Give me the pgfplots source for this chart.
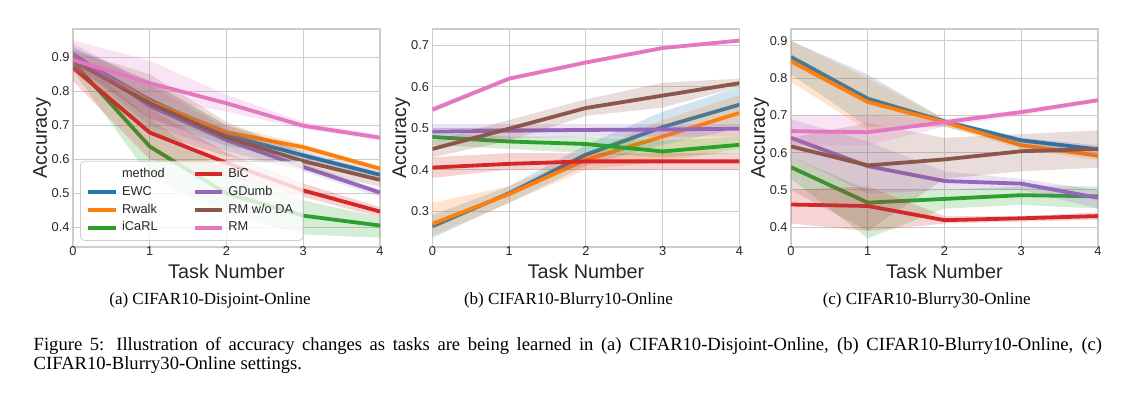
\documentclass[border=0pt]{standalone}
\usepackage{fontspec}
\setmainfont{Liberation Serif}
\newfontfamily\arial{Liberation Sans}
\usepackage{pgfplots}
\pgfplotsset{compat=1.18}
\definecolor{cEWC}{HTML}{1F77B4}
\definecolor{cRW}{HTML}{FF7F0E}
\definecolor{cIC}{HTML}{2CA02C}
\definecolor{cBiC}{HTML}{D62728}
\definecolor{cGD}{HTML}{9467BD}
\definecolor{cRMw}{HTML}{8C564B}
\definecolor{cRM}{HTML}{E377C2}
\definecolor{gridc}{HTML}{CCCCCC}
\definecolor{labc}{HTML}{262626}
% \series{color}{mean}{band polygon: upper forward, lower backward}
\newcommand{\series}[3]{%
  \addplot[draw=none, fill=#1, fill opacity=0.2, forget plot] coordinates {#3} -- cycle;
  \addplot[#1, line width=1.9pt, forget plot] coordinates {#2};
}
\pgfplotsset{
  panel/.style={
    scale only axis, width=153.5pt, height=109pt,
    xmin=0, xmax=4, xtick={0,1,2,3,4},
    grid=major, major grid style={draw=gridc, line width=0.5pt},
    axis line style={draw=gridc, line width=0.6pt},
    major tick length=0pt, no markers,
    tick label style={font=\arial\fontsize{6.4}{7}\selectfont, text=labc},
    /pgf/number format/assume math mode=true,
    xticklabel style={yshift=1.3pt, inner ysep=1pt},
    yticklabel style={xshift=1.8pt, /pgf/number format/.cd, fixed, precision=1, fixed zerofill},
    xlabel={Task Number}, ylabel={Accuracy},
    label style={font=\arial\fontsize{9.9}{11}\selectfont, text=labc},
    xlabel style={at={(axis description cs:0.5,-0.112)}, anchor=center, inner ysep=0.5pt},
    ylabel style={at={(axis description cs:-0.101,0.5)}, anchor=center},
    legend image code/.code={\draw[#1, line width=2pt] (0pt,0pt) -- (13.8pt,0pt);},
  }
}
\begin{document}
\begin{tikzpicture}
\useasboundingbox (0pt,0pt) rectangle (566.5pt,-199.5pt);
% (a)
\begin{axis}[panel, at={(36.5pt,-123.5pt)}, anchor=south west,
  ymin=0.343, ymax=0.983, ytick={0.4,0.5,0.6,0.7,0.8,0.9},
  legend columns=2,
  legend style={at={(axis description cs:0.023,0.028)}, anchor=south west,
    draw=gridc, rounded corners=2pt, fill=white, fill opacity=0.8, text opacity=1,
    font=\arial\fontsize{6.4}{7.5}\selectfont, text=labc,
    nodes={inner ysep=1.5pt, text height=4.6pt, text depth=1.3pt},
    /tikz/every even column/.append style={column sep=12pt},
    inner xsep=3pt, inner ysep=2pt},
  legend cell align=left]
\series{cEWC}{(0,0.905)(1,0.775)(2,0.672)(3,0.612)(4,0.555)}{(0,0.93)(1,0.83)(2,0.70)(3,0.625)(4,0.565)(4,0.545)(3,0.60)(2,0.64)(1,0.72)(0,0.88)}
\series{cRW}{(0,0.90)(1,0.77)(2,0.68)(3,0.636)(4,0.573)}{(0,0.925)(1,0.83)(2,0.70)(3,0.645)(4,0.58)(4,0.565)(3,0.625)(2,0.655)(1,0.72)(0,0.875)}
\series{cIC}{(0,0.886)(1,0.638)(2,0.50)(3,0.435)(4,0.406)}{(0,0.91)(1,0.72)(2,0.56)(3,0.48)(4,0.43)(4,0.37)(3,0.38)(2,0.44)(1,0.55)(0,0.86)}
\series{cBiC}{(0,0.87)(1,0.679)(2,0.59)(3,0.509)(4,0.447)}{(0,0.90)(1,0.75)(2,0.62)(3,0.53)(4,0.46)(4,0.43)(3,0.49)(2,0.55)(1,0.60)(0,0.83)}
\series{cGD}{(0,0.91)(1,0.757)(2,0.657)(3,0.578)(4,0.503)}{(0,0.94)(1,0.82)(2,0.69)(3,0.59)(4,0.51)(4,0.49)(3,0.565)(2,0.625)(1,0.70)(0,0.88)}
\series{cRMw}{(0,0.89)(1,0.765)(2,0.665)(3,0.595)(4,0.54)}{(0,0.92)(1,0.85)(2,0.71)(3,0.62)(4,0.56)(4,0.52)(3,0.57)(2,0.61)(1,0.68)(0,0.86)}
\series{cRM}{(0,0.892)(1,0.824)(2,0.765)(3,0.699)(4,0.664)}{(0,0.95)(1,0.89)(2,0.79)(3,0.71)(4,0.672)(4,0.656)(3,0.69)(2,0.74)(1,0.78)(0,0.86)}
\addlegendimage{draw opacity=0}\addlegendentry{method}
\addlegendimage{cBiC}\addlegendentry{BiC}
\addlegendimage{cEWC}\addlegendentry{EWC}
\addlegendimage{cGD}\addlegendentry{GDumb}
\addlegendimage{cRW}\addlegendentry{Rwalk}
\addlegendimage{cRMw}\addlegendentry{RM w/o DA}
\addlegendimage{cIC}\addlegendentry{iCaRL}
\addlegendimage{cRM}\addlegendentry{RM}
\end{axis}
% (b)
\begin{axis}[panel, at={(216.2pt,-123.5pt)}, anchor=south west,
  ymin=0.213, ymax=0.740, ytick={0.3,0.4,0.5,0.6,0.7}]
\series{cEWC}{(0,0.263)(1,0.343)(2,0.436)(3,0.503)(4,0.557)}{(0,0.29)(1,0.36)(2,0.46)(3,0.54)(4,0.60)(4,0.50)(3,0.46)(2,0.41)(1,0.32)(0,0.235)}
\series{cRW}{(0,0.269)(1,0.341)(2,0.424)(3,0.480)(4,0.537)}{(0,0.32)(1,0.36)(2,0.44)(3,0.52)(4,0.58)(4,0.45)(3,0.42)(2,0.40)(1,0.32)(0,0.24)}
\series{cIC}{(0,0.479)(1,0.468)(2,0.462)(3,0.444)(4,0.460)}{(0,0.49)(1,0.48)(2,0.48)(3,0.47)(4,0.48)(4,0.44)(3,0.43)(2,0.44)(1,0.45)(0,0.46)}
\series{cBiC}{(0,0.405)(1,0.414)(2,0.420)(3,0.420)(4,0.420)}{(0,0.43)(1,0.44)(2,0.44)(3,0.44)(4,0.44)(4,0.40)(3,0.40)(2,0.40)(1,0.40)(0,0.38)}
\series{cGD}{(0,0.492)(1,0.494)(2,0.496)(3,0.497)(4,0.499)}{(0,0.51)(1,0.51)(2,0.51)(3,0.51)(4,0.51)(4,0.48)(3,0.48)(2,0.48)(1,0.475)(0,0.475)}
\series{cRMw}{(0,0.450)(1,0.499)(2,0.549)(3,0.579)(4,0.609)}{(0,0.47)(1,0.52)(2,0.57)(3,0.61)(4,0.62)(4,0.60)(3,0.55)(2,0.53)(1,0.47)(0,0.43)}
\series{cRM}{(0,0.545)(1,0.620)(2,0.659)(3,0.694)(4,0.712)}{(0,0.552)(1,0.625)(2,0.664)(3,0.698)(4,0.716)(4,0.708)(3,0.690)(2,0.654)(1,0.615)(0,0.538)}
\end{axis}
% (c)
\begin{axis}[panel, at={(395.5pt,-123.5pt)}, anchor=south west,
  ymin=0.347, ymax=0.932, ytick={0.4,0.5,0.6,0.7,0.8,0.9}]
\series{cEWC}{(0,0.857)(1,0.745)(2,0.684)(3,0.633)(4,0.609)}{(0,0.90)(1,0.81)(2,0.69)(3,0.64)(4,0.62)(4,0.60)(3,0.62)(2,0.67)(1,0.67)(0,0.81)}
\series{cRW}{(0,0.845)(1,0.736)(2,0.682)(3,0.620)(4,0.592)}{(0,0.90)(1,0.80)(2,0.69)(3,0.63)(4,0.60)(4,0.58)(3,0.61)(2,0.67)(1,0.66)(0,0.79)}
\series{cIC}{(0,0.561)(1,0.466)(2,0.476)(3,0.486)(4,0.483)}{(0,0.59)(1,0.50)(2,0.50)(3,0.51)(4,0.51)(4,0.45)(3,0.46)(2,0.45)(1,0.37)(0,0.53)}
\series{cBiC}{(0,0.461)(1,0.457)(2,0.419)(3,0.424)(4,0.430)}{(0,0.50)(1,0.51)(2,0.43)(3,0.43)(4,0.44)(4,0.42)(3,0.415)(2,0.41)(1,0.39)(0,0.41)}
\series{cGD}{(0,0.640)(1,0.564)(2,0.524)(3,0.517)(4,0.479)}{(0,0.69)(1,0.63)(2,0.55)(3,0.53)(4,0.50)(4,0.45)(3,0.50)(2,0.50)(1,0.49)(0,0.59)}
\series{cRMw}{(0,0.617)(1,0.566)(2,0.582)(3,0.604)(4,0.610)}{(0,0.64)(1,0.68)(2,0.64)(3,0.65)(4,0.66)(4,0.56)(3,0.55)(2,0.53)(1,0.39)(0,0.50)}
\series{cRM}{(0,0.658)(1,0.655)(2,0.682)(3,0.709)(4,0.741)}{(0,0.70)(1,0.70)(2,0.69)(3,0.715)(4,0.745)(4,0.735)(3,0.70)(2,0.67)(1,0.62)(0,0.62)}
\end{axis}
\node[anchor=base, font=\fontsize{8.5}{10}\selectfont] at (105pt,-152.5pt) {(a) CIFAR10-Disjoint-Online};
\node[anchor=base, font=\fontsize{8.5}{10}\selectfont] at (284.25pt,-152.5pt) {(b) CIFAR10-Blurry10-Online};
\node[anchor=base, font=\fontsize{8.5}{10}\selectfont] at (463.35pt,-152.5pt) {(c) CIFAR10-Blurry30-Online};
\node[anchor=base west, inner sep=0pt, font=\fontsize{9.3}{11}\selectfont] at (16.65pt,-175.35pt) {\makebox[534.2pt][s]{Figure 5: Illustration of accuracy changes as tasks are being learned in (a) CIFAR10-Disjoint-Online, (b) CIFAR10-Blurry10-Online, (c)}};
\node[anchor=base west, inner sep=0pt, font=\fontsize{9.3}{11}\selectfont] at (16.65pt,-184.65pt) {CIFAR10-Blurry30-Online settings.};
\end{tikzpicture}
\end{document}
